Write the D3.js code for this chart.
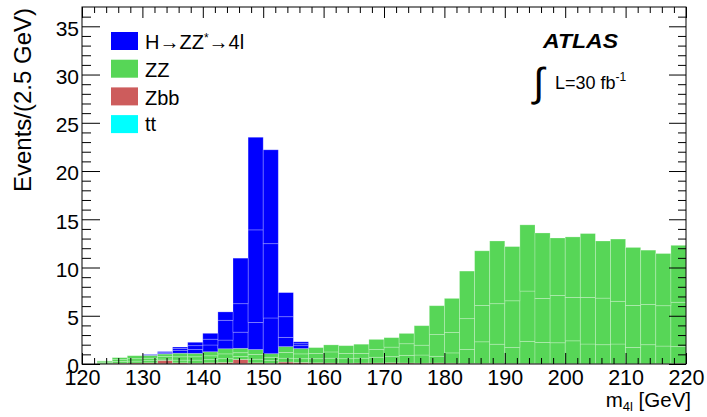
<!DOCTYPE html>
<html>
<head>
<meta charset="utf-8">
<script src="https://cdn.jsdelivr.net/npm/d3@7"></script>
<style>
  body { margin: 0; background: #fff; }
  text { font-family: "Liberation Sans", Arial, sans-serif; }
</style>
</head>
<body>
<div id="chart"></div>
<script>
// lower edges of the 2.5 GeV bins
var binLow = [120, 122.5, 125, 127.5, 130, 132.5, 135, 137.5, 140, 142.5,
              145, 147.5, 150, 152.5, 155, 157.5, 160, 162.5, 165, 167.5,
              170, 172.5, 175, 177.5, 180, 182.5, 185, 187.5, 190, 192.5,
              195, 197.5, 200, 202.5, 205, 207.5, 210, 212.5, 215, 217.5];
var binWidth = 2.5;

// events per bin, stacked bottom to top
var tt = [0, 0, 0, 0, 0, 0.02, 0, 0, 0, 0,
          0.02, 0, 0, 0, 0, 0, 0, 0, 0, 0,
          0, 0, 0, 0, 0, 0, 0, 0, 0, 0,
          0, 0, 0, 0, 0, 0, 0, 0, 0, 0];
var zbb = [0, 0.03, 0.08, 0.1, 0.12, 0.35, 0.12, 0.08, 0.12, 0.15,
           0.45, 0.12, 0.08, 0.2, 0.15, 0.12, 0.1, 0.08, 0.1, 0.1,
           0.12, 0.1, 0.08, 0.1, 0.08, 0.06, 0.05, 0.05, 0.04, 0.04,
           0.03, 0.03, 0.03, 0.02, 0.02, 0.02, 0.02, 0.02, 0.03, 0.05];
var zz4e = [0, 0.09, 0.17, 0.2, 0.23, 0.15, 0.28, 0.32, 0.33, 0.4,
            0.3, 0.38, 0.27, 0.4, 0.4, 0.43, 0.5, 0.47, 0.5, 0.6,
            0.64, 0.8, 0.85, 0.7, 1.07, 1.44, 2.25, 2.0, 1.66, 2.31,
            2.21, 2.17, 2.37, 2.05, 1.98, 2.05, 1.7, 1.98, 1.83, 1.75];
var zz4mu = [0, 0.1, 0.2, 0.25, 0.25, 0.25, 0.35, 0.35, 0.4, 0.5,
             0.4, 0.5, 0.35, 0.6, 0.5, 0.55, 0.65, 0.55, 0.5, 0.8,
             0.99, 1.2, 1.02, 2.25, 2.13, 3.2, 3.77, 4.2, 4.85, 5.21,
             4.56, 4.9, 4.5, 4.83, 4.83, 4.43, 4.35, 4.18, 4.18, 4.6];
var zz2e2mu = [0, 0.1, 0.21, 0.31, 0.3, 0.27, 0.37, 0.35, 0.42, 0.53,
               0.45, 0.5, 0.37, 0.6, 0.55, 0.6, 0.73, 0.8, 0.95, 1.05,
               0.98, 1.07, 2.02, 2.99, 3.52, 4.93, 5.66, 6.5, 5.62, 6.86,
               6.78, 5.96, 6.27, 6.62, 5.92, 6.45, 6.01, 5.62, 5.41, 5.9];
var h4e = [0, 0, 0, 0, 0.03, 0.08, 0.3, 0.4, 0.7, 0.9,
           1.68, 2.8, 3.7, 0.96, 0.3, 0, 0, 0, 0, 0,
           0, 0, 0, 0, 0, 0, 0, 0, 0, 0,
           0, 0, 0, 0, 0, 0, 0, 0, 0, 0];
var h4mu = [0, 0, 0, 0, 0.04, 0.1, 0.2, 0.4, 0.6, 2.05,
            2.95, 9.6, 7.7, 2.14, 0.2, 0, 0, 0, 0, 0,
            0, 0, 0, 0, 0, 0, 0, 0, 0, 0,
            0, 0, 0, 0, 0, 0, 0, 0, 0, 0];
var h2e2mu = [0, 0, 0, 0, 0.03, 0.07, 0.14, 0.35, 0.61, 0.87,
              4.72, 9.6, 9.73, 2.5, 0.2, 0, 0, 0, 0, 0,
              0, 0, 0, 0, 0, 0, 0, 0, 0, 0,
              0, 0, 0, 0, 0, 0, 0, 0, 0, 0];

var xTicks = [120, 130, 140, 150, 160, 170, 180, 190, 200, 210, 220];
var yTicks = [0, 5, 10, 15, 20, 25, 30, 35];

var legendItems = [
    { key: "higgs", color: "#0000ff" },
    { key: "zz", color: "#57d657" },
    { key: "zbb", color: "#cd5c5c" },
    { key: "tt", color: "#00ffff" }
];

var layerKeys = ["tt", "zbb", "zz4e", "zz4mu", "zz2e2mu", "h4e", "h4mu", "h2e2mu"];
var layerColor = {
    tt: "#00ffff", zbb: "#cd5c5c",
    zz4e: "#57d657", zz4mu: "#57d657", zz2e2mu: "#57d657",
    h4e: "#0000ff", h4mu: "#0000ff", h2e2mu: "#0000ff"
};

var width = 707, height = 417;
var plotL = 82, plotR = 686, plotT = 7, plotB = 364;

var svg = d3.select("#chart").append("svg")
    .attr("width", width)
    .attr("height", height);

var x = d3.scaleLinear().domain([120, 220]).range([plotL, plotR]);
var y = d3.scaleLinear().domain([0, 37]).range([plotB, plotT]);

var rows = binLow.map(function (lo, i) {
    return {
        lo: lo, tt: tt[i], zbb: zbb[i],
        zz4e: zz4e[i], zz4mu: zz4mu[i], zz2e2mu: zz2e2mu[i],
        h4e: h4e[i], h4mu: h4mu[i], h2e2mu: h2e2mu[i]
    };
});

var series = d3.stack().keys(layerKeys)(rows);

svg.append("g").selectAll("g")
    .data(series)
    .join("g")
    .attr("fill", function (d) { return layerColor[d.key]; })
    .selectAll("rect")
    .data(function (d) { return d.filter(function (v) { return v[1] - v[0] > 0; }); })
    .join("rect")
    .attr("x", function (d) { return x(d.data.lo); })
    .attr("width", function (d) { return x(d.data.lo + binWidth) - x(d.data.lo); })
    .attr("y", function (d) { return y(d[1]); })
    .attr("height", function (d) { return y(d[0]) - y(d[1]); })
    .attr("stroke", "rgba(255,255,255,0.3)")
    .attr("stroke-width", 0.8);

// minor tick values
var xMinor = d3.range(122, 220, 2).filter(function (v) { return v % 10 !== 0; });
var yMinor = d3.range(1, 37, 1).filter(function (v) { return v % 5 !== 0; });

function styleAxis(g) {
    g.select(".domain").remove();
    g.selectAll("line").attr("stroke", "#000").attr("stroke-width", 1);
}

// bottom
svg.append("g").attr("transform", "translate(0," + plotB + ")")
    .call(d3.axisBottom(x).tickValues(xTicks).tickSize(-11).tickPadding(6))
    .call(styleAxis)
    .selectAll("text").attr("font-size", 21.5).attr("fill", "#000")
    .attr("font-family", "'Liberation Sans', Arial, sans-serif");
svg.append("g").attr("transform", "translate(0," + plotB + ")")
    .call(d3.axisBottom(x).tickValues(xMinor).tickSize(-6).tickFormat(""))
    .call(styleAxis);

// top
svg.append("g").attr("transform", "translate(0," + plotT + ")")
    .call(d3.axisTop(x).tickValues(xTicks).tickSize(-11).tickFormat(""))
    .call(styleAxis);
svg.append("g").attr("transform", "translate(0," + plotT + ")")
    .call(d3.axisTop(x).tickValues(xMinor).tickSize(-6).tickFormat(""))
    .call(styleAxis);

// left
svg.append("g").attr("transform", "translate(" + plotL + ",0)")
    .call(d3.axisLeft(y).tickValues(yTicks).tickSize(-18).tickPadding(3))
    .call(styleAxis)
    .selectAll("text").attr("font-size", 21).attr("fill", "#000").attr("dy", "0.42em")
    .attr("font-family", "'Liberation Sans', Arial, sans-serif");
svg.append("g").attr("transform", "translate(" + plotL + ",0)")
    .call(d3.axisLeft(y).tickValues(yMinor).tickSize(-9).tickFormat(""))
    .call(styleAxis);

// right
svg.append("g").attr("transform", "translate(" + plotR + ",0)")
    .call(d3.axisRight(y).tickValues(yTicks).tickSize(-17).tickFormat(""))
    .call(styleAxis);
svg.append("g").attr("transform", "translate(" + plotR + ",0)")
    .call(d3.axisRight(y).tickValues(yMinor).tickSize(-8).tickFormat(""))
    .call(styleAxis);

// frame
svg.append("rect")
    .attr("x", plotL).attr("y", plotT)
    .attr("width", plotR - plotL).attr("height", plotB - plotT)
    .attr("fill", "none").attr("stroke", "#000").attr("stroke-width", 1);

// axis titles
svg.append("text")
    .attr("transform", "translate(31,100) rotate(-90)")
    .attr("text-anchor", "middle")
    .attr("font-size", 24)
    .text("Events/(2.5 GeV)");

var xt = svg.append("text")
    .attr("x", 691).attr("y", 407)
    .attr("text-anchor", "end")
    .attr("font-size", 20.5);
xt.append("tspan").text("m");
xt.append("tspan").attr("font-size", 13).attr("dy", 4).text("4l");
xt.append("tspan").attr("dy", -4).text(" [GeV]");

// legend
var leg = svg.append("g");
leg.selectAll("rect")
    .data(legendItems)
    .join("rect")
    .attr("x", 111)
    .attr("y", function (d, i) { return 32 + i * 27.7; })
    .attr("width", 27).attr("height", 18)
    .attr("fill", function (d) { return d.color; });

var ly = [49, 77, 105, 131];
var h = leg.append("text").attr("x", 145).attr("y", ly[0]).attr("font-size", 20);
h.append("tspan").text("H\u2192ZZ");
h.append("tspan").attr("font-size", 12).attr("dy", -7).text("*");
h.append("tspan").attr("dy", 7).text("\u21924l");
leg.append("text").attr("x", 145).attr("y", ly[1]).attr("font-size", 20).text("ZZ");
leg.append("text").attr("x", 145).attr("y", ly[2]).attr("font-size", 20).text("Zbb");
leg.append("text").attr("x", 145).attr("y", ly[3]).attr("font-size", 20).text("tt");

// ATLAS label
svg.append("text")
    .attr("x", 543).attr("y", 48)
    .attr("font-size", 20).attr("font-weight", "bold").attr("font-style", "italic")
    .attr("textLength", 75).attr("lengthAdjust", "spacingAndGlyphs")
    .text("ATLAS");

svg.append("text")
    .attr("x", 533).attr("y", 96)
    .attr("font-size", 40)
    .attr("font-family", "'DejaVu Sans', sans-serif")
    .text("\u222B");

var lum = svg.append("text").attr("x", 555).attr("y", 89).attr("font-size", 18);
lum.append("tspan").text("L=30 fb");
lum.append("tspan").attr("font-size", 12).attr("dy", -8).text("-1");
</script>
</body>
</html>
